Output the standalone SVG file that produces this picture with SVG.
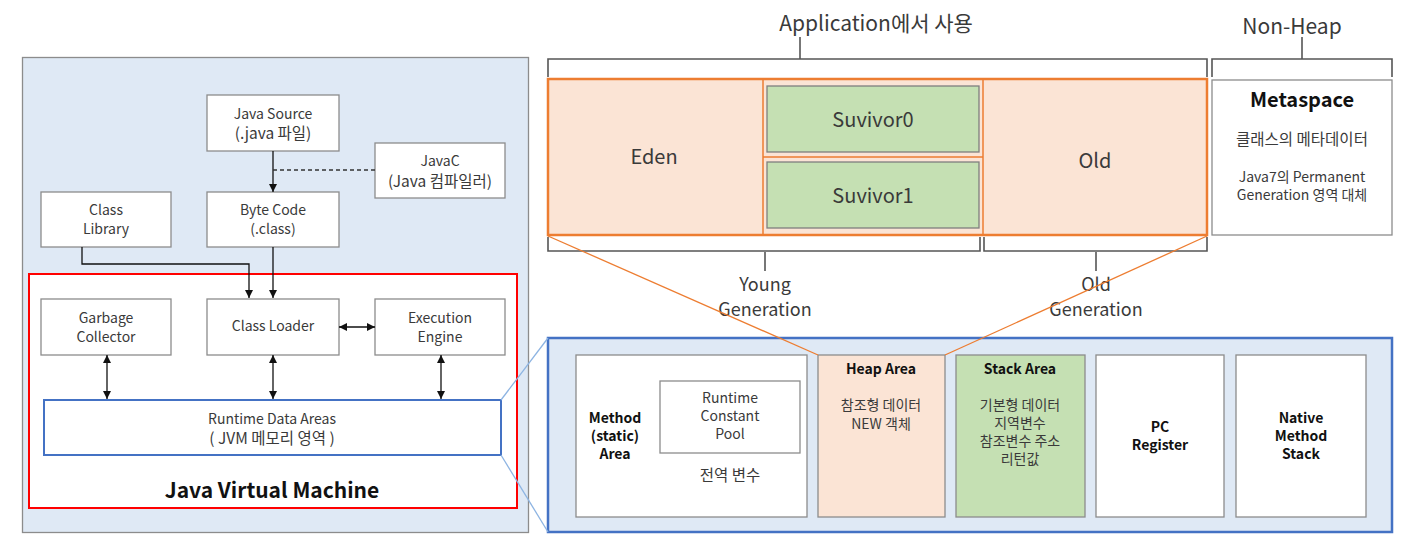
<svg xmlns="http://www.w3.org/2000/svg" width="1417" height="550" viewBox="0 0 1417 550">
<defs>
<style>
text{font-family:"Noto Sans CJK KR","Noto Sans",sans-serif;fill:#3a3a3a;text-anchor:middle}
.t14{font-size:14px}
.k{font-size:15.5px}
.ks{font-size:14px}
.b{font-weight:bold;fill:#111}
.bb{font-size:14px;font-weight:bold;fill:#111}
.big{font-size:20px}
.gen{font-size:18px}
.box{fill:#fff;stroke:#8c8c8c;stroke-width:1.3}
.ln{stroke:#111;stroke-width:1.3;fill:none}
.br{stroke:#555;stroke-width:1.6;fill:none}
.or{stroke:#ed7d31;fill:none}
.lb{stroke:#8db4e2;stroke-width:1.3;fill:none}
</style>
<marker id="ah" viewBox="0 0 10 10" refX="10" refY="5" markerWidth="8" markerHeight="8" markerUnits="userSpaceOnUse" orient="auto-start-reverse">
<path d="M0,0 L10,5 L0,10 z" fill="#111"/>
</marker>
</defs>

<!-- left panel background -->
<rect x="22.5" y="57.5" width="506" height="475" fill="#dfe9f5" stroke="#8c8c8c" stroke-width="1.3"/>
<rect x="29" y="274" width="488" height="234" fill="#fff" stroke="#ff0000" stroke-width="2"/>

<g id="java-source"><rect class="box" x="207" y="95" width="132" height="56"/>
<text class="t14" x="273" y="119">Java Source</text><text class="k" x="273" y="139">(.java 파일)</text></g>
<g id="javac"><rect class="box" x="375" y="143" width="130" height="55"/>
<text class="t14" x="440" y="166">JavaC</text><text class="k" x="440" y="187">(Java 컴파일러)</text></g>
<g id="class-library"><rect class="box" x="41" y="192" width="130" height="55"/>
<text class="t14" x="106" y="215">Class</text><text class="t14" x="106" y="234">Library</text></g>
<g id="byte-code"><rect class="box" x="207" y="192" width="132" height="55"/>
<text class="t14" x="273" y="215">Byte Code</text><text class="t14" x="273" y="234">(.class)</text></g>
<g id="garbage-collector"><rect class="box" x="41" y="299" width="130" height="56"/>
<text class="t14" x="106" y="323">Garbage</text><text class="t14" x="106" y="342">Collector</text></g>
<g id="class-loader"><rect class="box" x="207" y="299" width="132" height="56"/>
<text class="t14" x="273" y="331">Class Loader</text></g>
<g id="execution-engine"><rect class="box" x="375" y="299" width="130" height="56"/>
<text class="t14" x="440" y="323">Execution</text><text class="t14" x="440" y="342">Engine</text></g>
<g id="runtime-data-areas"><rect x="44" y="400" width="457" height="55" fill="#fff" stroke="#4472c4" stroke-width="2"/>
<text class="t14" x="272" y="424">Runtime Data Areas</text><text class="k" x="272" y="444">( JVM 메모리 영역 )</text></g>
<g id="jvm-label"><text class="b" font-size="21" x="272" y="498">Java Virtual Machine</text></g>

<!-- heap top -->
<g id="heap-labels">
<text font-size="21" x="876" y="31">Application에서 사용</text>
<line class="br" x1="800" y1="37" x2="800" y2="59"/>
<polyline class="br" points="548,77 548,59 1207,59 1207,77"/>
<text font-size="21" x="1292" y="34">Non-Heap</text>
<line class="br" x1="1302" y1="37" x2="1302" y2="59"/>
<polyline class="br" points="1212,77 1212,59 1392,59 1392,77"/>
<polyline class="br" points="548,237 548,251 980,251 980,237"/>
<polyline class="br" points="984,237 984,251 1207,251 1207,237"/>
<line class="br" x1="765" y1="252" x2="765" y2="271"/>
<line class="br" x1="1096" y1="252" x2="1096" y2="271"/>
<text class="gen" x="765" y="291">Young</text><text class="gen" x="765" y="316">Generation</text>
<text class="gen" x="1096" y="291">Old</text><text class="gen" x="1096" y="316">Generation</text>
</g>
<g id="heap">
<rect x="548" y="79" width="659" height="156" fill="#fbe4d5" stroke="#ed7d31" stroke-width="2.5"/>
<line class="or" stroke-width="1.5" x1="763" y1="79" x2="763" y2="235"/>
<line class="or" stroke-width="1.5" x1="983" y1="79" x2="983" y2="235"/>
<line class="or" stroke-width="1.5" x1="763" y1="157" x2="983" y2="157"/>
</g>
<g id="eden"><text class="big" x="654" y="164">Eden</text></g>
<g id="survivor0"><rect x="767" y="86" width="212" height="66" fill="#c5e0b3" stroke="#7f7f7f" stroke-width="1.3"/>
<text class="big" x="873" y="127">Suvivor0</text></g>
<g id="survivor1"><rect x="767" y="162" width="212" height="66" fill="#c5e0b3" stroke="#7f7f7f" stroke-width="1.3"/>
<text class="big" x="873" y="203">Suvivor1</text></g>
<g id="old"><text class="big" x="1095" y="168">Old</text></g>
<g id="metaspace"><rect class="box" x="1212" y="80" width="180" height="155"/>
<text class="b" font-size="20" x="1302" y="107">Metaspace</text>
<text class="k" x="1302" y="145">클래스의 메타데이터</text>
<text font-size="14" x="1302" y="182">Java7의 Permanent</text>
<text font-size="14" x="1302" y="200">Generation 영역 대체</text></g>

<!-- runtime data areas detail -->
<rect x="548" y="338" width="844" height="194" fill="#dfe9f5" stroke="#4472c4" stroke-width="2.5"/>
<g id="method-area"><rect class="box" x="576" y="355" width="231" height="162"/>
<text class="bb" x="615" y="423">Method</text><text class="bb" x="615" y="441">(static)</text><text class="bb" x="615" y="459">Area</text>
<text class="k" x="730" y="481">전역 변수</text></g>
<g id="runtime-constant-pool"><rect class="box" x="660" y="381" width="140" height="72"/>
<text class="t14" x="730" y="403">Runtime</text><text class="t14" x="730" y="421">Constant</text><text class="t14" x="730" y="439">Pool</text></g>
<g id="heap-area"><rect x="818" y="355" width="127" height="162" fill="#fbe4d5" stroke="#8c8c8c" stroke-width="1.3"/>
<text class="bb" font-size="14.5" x="881" y="374">Heap Area</text>
<text class="ks" x="881" y="410">참조형 데이터</text><text class="ks" x="881" y="429">NEW 객체</text></g>
<g id="stack-area"><rect x="956" y="355" width="129" height="162" fill="#c5e0b3" stroke="#8c8c8c" stroke-width="1.3"/>
<text class="bb" x="1020" y="374">Stack Area</text>
<text class="ks" x="1020" y="410">기본형 데이터</text><text class="ks" x="1020" y="428">지역변수</text>
<text class="ks" x="1020" y="446">참조변수 주소</text><text class="ks" x="1020" y="464">리턴값</text></g>
<g id="pc-register"><rect class="box" x="1096" y="355" width="128" height="162"/>
<text class="bb" x="1160" y="432">PC</text><text class="bb" x="1160" y="450">Register</text></g>
<g id="native-method-stack"><rect class="box" x="1236" y="355" width="130" height="162"/>
<text class="bb" x="1301" y="423">Native</text><text class="bb" x="1301" y="441">Method</text><text class="bb" x="1301" y="459">Stack</text></g>

<g id="connectors">
<line class="ln" x1="273" y1="151" x2="273" y2="192" marker-end="url(#ah)"/>
<line x1="273" y1="170" x2="375" y2="170" stroke="#333" stroke-width="1.3" stroke-dasharray="4,3"/>
<polyline class="ln" points="82,247 82,264 249,264 249,298" marker-end="url(#ah)"/>
<line class="ln" x1="273" y1="247" x2="273" y2="298" marker-end="url(#ah)"/>
<line class="ln" x1="339" y1="327" x2="375" y2="327" marker-start="url(#ah)" marker-end="url(#ah)"/>
<line class="ln" x1="107" y1="355" x2="107" y2="399" marker-start="url(#ah)" marker-end="url(#ah)"/>
<line class="ln" x1="273" y1="355" x2="273" y2="399" marker-start="url(#ah)" marker-end="url(#ah)"/>
<line class="ln" x1="441" y1="355" x2="441" y2="399" marker-start="url(#ah)" marker-end="url(#ah)"/>
<line class="lb" x1="501" y1="400" x2="548" y2="338"/>
<line class="lb" x1="501" y1="455" x2="548" y2="532"/>
<line class="or" stroke-width="1.3" x1="548" y1="236" x2="818" y2="355"/>
<line class="or" stroke-width="1.3" x1="1207" y1="236" x2="945" y2="355"/>
</g>
</svg>
